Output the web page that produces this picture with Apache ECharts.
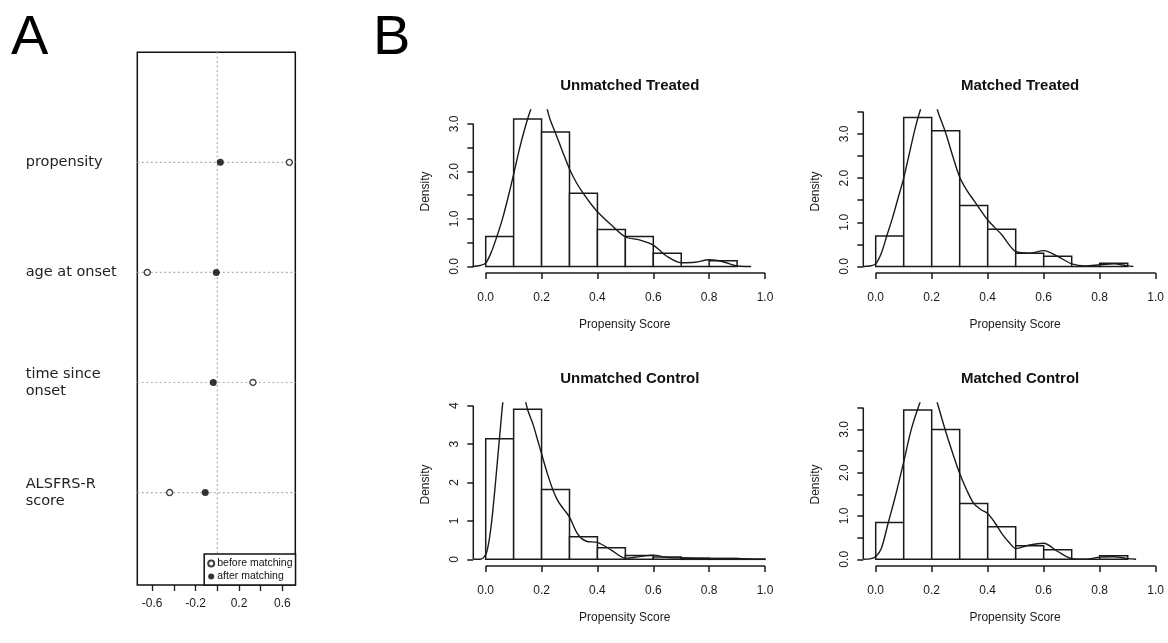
<!DOCTYPE html>
<html>
<head>
<meta charset="utf-8">
<script src="https://cdn.jsdelivr.net/npm/echarts@6/dist/echarts.min.js"></script>
<style>
html,body{margin:0;padding:0;background:#fff;}
#chart{width:1168px;height:643px;}
</style>
</head>
<body>
<div id="chart"></div>
<script>
// ---------- Panel A data ----------
const A_rows = ['propensity', 'age at onset', 'time since\nonset', 'ALSFRS-R\nscore'];
const A_before = [0.664, -0.645, 0.329, -0.439];
const A_after = [0.028, -0.009, -0.037, -0.111];
const A_xTicks = [-0.6, -0.4, -0.2, 0, 0.2, 0.4, 0.6];
const A_xLabels = [-0.6, -0.2, 0.2, 0.6];
const A_legend = ['before matching', 'after matching'];

// ---------- Panel B data ----------
const panelTitles = ['Unmatched Treated', 'Matched Treated', 'Unmatched Control', 'Matched Control'];
const binEdges = [0, 0.1, 0.2, 0.3, 0.4, 0.5, 0.6, 0.7, 0.8, 0.9, 1.0];
const xTickValues = [0, 0.2, 0.4, 0.6, 0.8, 1.0];

const histUT = [0.63, 3.10, 2.83, 1.54, 0.78, 0.63, 0.28, 0, 0.12];
const histMT = [0.69, 3.37, 3.07, 1.38, 0.84, 0.30, 0.23, 0, 0.075];
const histUC = [3.14, 3.91, 1.82, 0.59, 0.30, 0.10, 0.06, 0.03, 0.02, 0.01];
const histMC = [0.85, 3.45, 3.00, 1.29, 0.75, 0.31, 0.22, 0, 0.08];

const densXUT = [-0.047, -0.02, 0, 0.02, 0.04, 0.06, 0.08, 0.1, 0.12, 0.14, 0.16, 0.18, 0.195, 0.21, 0.23, 0.25, 0.275, 0.3, 0.325, 0.35, 0.375, 0.4, 0.45, 0.5, 0.55, 0.6, 0.65, 0.7, 0.75, 0.8, 0.85, 0.9, 0.95];
const densYUT = [0, 0.02, 0.07, 0.3, 0.63, 1.0, 1.45, 1.94, 2.45, 2.9, 3.28, 3.55, 3.62, 3.5, 3.1, 2.8, 2.42, 2.05, 1.76, 1.53, 1.33, 1.15, 0.87, 0.62, 0.56, 0.45, 0.21, 0.08, 0.09, 0.14, 0.1, 0.01, 0];

const densXMT = [-0.045, -0.02, 0, 0.02, 0.04, 0.06, 0.08, 0.1, 0.12, 0.14, 0.16, 0.18, 0.195, 0.21, 0.225, 0.25, 0.275, 0.3, 0.325, 0.35, 0.375, 0.4, 0.45, 0.5, 0.55, 0.6, 0.65, 0.7, 0.75, 0.8, 0.85, 0.9, 0.92];
const densYMT = [0, 0.01, 0.06, 0.3, 0.7, 1.1, 1.55, 2.0, 2.55, 3.1, 3.55, 3.85, 3.9, 3.75, 3.45, 3.02, 2.5, 2.02, 1.73, 1.5, 1.27, 1.05, 0.72, 0.34, 0.30, 0.36, 0.23, 0.06, 0.015, 0.04, 0.06, 0.015, 0];

const densXUC = [-0.044, -0.02, 0, 0.01, 0.02, 0.03, 0.04, 0.05, 0.06, 0.07, 0.09, 0.11, 0.13, 0.15, 0.17, 0.19, 0.2, 0.22, 0.24, 0.26, 0.28, 0.3, 0.33, 0.36, 0.4, 0.45, 0.5, 0.55, 0.6, 0.65, 0.7, 0.8, 0.9, 0.95];
const densYUC = [0, 0, 0.12, 0.4, 0.9, 1.6, 2.4, 3.2, 4.0, 4.6, 5.1, 5.0, 4.5, 3.9, 3.5, 3.0, 2.75, 2.25, 1.82, 1.5, 1.3, 1.1, 0.65, 0.47, 0.44, 0.24, 0.03, 0.07, 0.11, 0.05, 0.035, 0.02, 0.02, 0];

const densXMC = [-0.044, -0.02, 0, 0.02, 0.045, 0.07, 0.1, 0.125, 0.15, 0.17, 0.19, 0.21, 0.225, 0.25, 0.275, 0.3, 0.325, 0.35, 0.375, 0.4, 0.425, 0.45, 0.475, 0.5, 0.55, 0.6, 0.65, 0.7, 0.75, 0.8, 0.85, 0.9, 0.93];
const densYMC = [0, 0.01, 0.06, 0.25, 0.85, 1.45, 2.25, 2.95, 3.47, 3.8, 3.92, 3.8, 3.5, 2.95, 2.45, 1.98, 1.6, 1.29, 1.15, 1.06, 0.85, 0.6, 0.4, 0.25, 0.33, 0.37, 0.18, 0.015, 0, 0.05, 0.06, 0.015, 0];

const yTicksUT = [0, 0.5, 1, 1.5, 2, 2.5, 3];
const yTicksMT = [0, 0.5, 1, 1.5, 2, 2.5, 3, 3.5];
const yTicksUC = [0, 1, 2, 3, 4];
const yTicksMC = [0, 0.5, 1, 1.5, 2, 2.5, 3, 3.5];
const yLabelsUT = [0, 1, 2, 3];
const yLabelsMT = [0, 1, 2, 3];
const yLabelsUC = [0, 1, 2, 3, 4];
const yLabelsMC = [0, 1, 2, 3];

// ---------- layout ----------
const FONT = 'Liberation Sans, Arial, sans-serif';
const INK = '#1a1a1a';
const panels = [
  {title: panelTitles[0], hist: histUT, dx: densXUT, dy: densYUT, yTicks: yTicksUT, yLabels: yLabelsUT, dig: 1,
   grid: {left: 473.3, top: 110, width: 302.9, height: 163}, xMin: -0.0444, xMax: 1.04, yMin: -0.137, yMax: 3.29},
  {title: panelTitles[1], hist: histMT, dx: densXMT, dy: densYMT, yTicks: yTicksMT, yLabels: yLabelsMT, dig: 1,
   grid: {left: 863.3, top: 110, width: 303.6, height: 163}, xMin: -0.0443, xMax: 1.04, yMin: -0.147, yMax: 3.54},
  {title: panelTitles[2], hist: histUC, dx: densXUC, dy: densYUC, yTicks: yTicksUC, yLabels: yLabelsUC, dig: 0,
   grid: {left: 473.3, top: 403, width: 302.9, height: 163}, xMin: -0.0444, xMax: 1.04, yMin: -0.174, yMax: 4.07},
  {title: panelTitles[3], hist: histMC, dx: densXMC, dy: densYMC, yTicks: yTicksMC, yLabels: yLabelsMC, dig: 1,
   grid: {left: 863.3, top: 403, width: 303.6, height: 163}, xMin: -0.0443, xMax: 1.04, yMin: -0.155, yMax: 3.61}
];

const A = {grid: {left: 137.3, top: 52.3, width: 158, height: 532.7}, xMin: -0.737, xMax: 0.719, yMin: 0.16, yMax: 5};

const grids = [];
const xAxes = [];
const yAxes = [];
const series = [];
const titles = [
  {text: 'A', left: 6, top: 6, textStyle: {fontFamily: FONT, fontSize: 56, fontWeight: 'normal', color: '#000'}},
  {text: 'B', left: 368, top: 6, textStyle: {fontFamily: FONT, fontSize: 56, fontWeight: 'normal', color: '#000'}}
];

// Panel A
grids.push(Object.assign({show: true, borderColor: '#111', borderWidth: 1.5, backgroundColor: 'transparent'}, A.grid));
xAxes.push({
  type: 'value', gridIndex: 0, min: A.xMin, max: A.xMax,
  axisLine: {show: false, onZero: false}, splitLine: {show: false},
  axisTick: {show: true, length: 6, customValues: A_xTicks, lineStyle: {color: INK, width: 1.3}},
  axisLabel: {customValues: A_xLabels, margin: 13, fontSize: 12, fontFamily: FONT, color: INK,
    formatter: v => (+v).toFixed(1)}
});
const rowPos = A_rows.map((_, i) => A_rows.length - i);
yAxes.push({
  type: 'value', gridIndex: 0, min: A.yMin, max: A.yMax,
  axisLine: {show: false, onZero: false}, splitLine: {show: false}, axisTick: {show: false},
  axisLabel: {customValues: rowPos, align: 'left', margin: 111.6, fontSize: 14.5, lineHeight: 17,
    fontFamily: 'DejaVu Sans, Verdana, sans-serif', color: '#222',
    formatter: v => A_rows[A_rows.length - v]}
});
const guideStyle = {color: '#b0b0b0', width: 1.2, type: [2, 2.5]};
series.push({type: 'line', xAxisIndex: 0, yAxisIndex: 0, data: [[0, A.yMin], [0, A.yMax]],
  showSymbol: false, silent: true, lineStyle: guideStyle, z: 1});
rowPos.forEach(r => {
  series.push({type: 'line', xAxisIndex: 0, yAxisIndex: 0, data: [[A.xMin, r], [A.xMax, r]],
    showSymbol: false, silent: true, lineStyle: guideStyle, z: 1});
});
series.push({name: A_legend[0], type: 'scatter', xAxisIndex: 0, yAxisIndex: 0, z: 5,
  data: A_before.map((v, i) => [v, rowPos[i]]), symbol: 'circle', symbolSize: 6,
  itemStyle: {color: '#fff', borderColor: '#111', borderWidth: 1.4}});
series.push({name: A_legend[1], type: 'scatter', xAxisIndex: 0, yAxisIndex: 0, z: 5,
  data: A_after.map((v, i) => [v, rowPos[i]]), symbol: 'circle', symbolSize: 7,
  itemStyle: {color: '#000'}});

// Panel B
function renderBar(params, api) {
  const x0 = api.value(0), x1 = api.value(1), h = api.value(2);
  const p0 = api.coord([x0, 0]);
  const p1 = api.coord([x1, h]);
  return {type: 'rect', shape: {x: p0[0], y: p1[1], width: p1[0] - p0[0], height: p0[1] - p1[1]},
    style: {fill: '#fff', stroke: INK, lineWidth: 1.5}};
}
panels.forEach((p, k) => {
  const gi = k + 1;
  grids.push(Object.assign({show: false}, p.grid));
  xAxes.push({
    type: 'value', gridIndex: gi, min: p.xMin, max: p.xMax,
    name: 'Propensity Score', nameLocation: 'middle', nameGap: 46,
    nameTextStyle: {fontFamily: FONT, fontSize: 12, color: INK},
    axisLine: {show: false, onZero: false}, splitLine: {show: false},
    axisTick: {show: true, length: 6, customValues: xTickValues, lineStyle: {color: INK, width: 1.5}},
    axisLabel: {customValues: xTickValues, margin: 19, fontSize: 12, fontFamily: FONT, color: INK,
      formatter: v => (+v).toFixed(1)}
  });
  yAxes.push({
    type: 'value', gridIndex: gi, min: p.yMin, max: p.yMax,
    name: 'Density', nameLocation: 'middle', nameGap: 42,
    nameTextStyle: {fontFamily: FONT, fontSize: 12, color: INK},
    axisLine: {show: false, onZero: false}, splitLine: {show: false},
    axisTick: {show: true, length: 6, customValues: p.yTicks, lineStyle: {color: INK, width: 1.5}},
    axisLabel: {customValues: p.yLabels, margin: 13, rotate: 90, align: 'center', verticalAlign: 'bottom',
      fontSize: 12, fontFamily: FONT, color: INK, formatter: v => (+v).toFixed(p.dig)}
  });
  titles.push({text: p.title, left: p.grid.left + p.grid.width / 2, top: p.grid.top - 37, textAlign: 'center',
    textStyle: {fontFamily: FONT, fontSize: 15, fontWeight: 'bold', color: '#111'}});
  // axis lines (R style: span first to last tick)
  series.push({type: 'line', xAxisIndex: gi, yAxisIndex: gi, clip: false, silent: true, showSymbol: false,
    data: [[xTickValues[0], p.yMin], [xTickValues[xTickValues.length - 1], p.yMin]],
    lineStyle: {color: INK, width: 1.5}});
  series.push({type: 'line', xAxisIndex: gi, yAxisIndex: gi, clip: false, silent: true, showSymbol: false,
    data: [[p.xMin, p.yTicks[0]], [p.xMin, p.yTicks[p.yTicks.length - 1]]],
    lineStyle: {color: INK, width: 1.5}});
  // histogram
  series.push({type: 'custom', xAxisIndex: gi, yAxisIndex: gi, silent: true, renderItem: renderBar,
    data: p.hist.map((h, i) => [binEdges[i], binEdges[i + 1], h]), encode: {x: [0, 1], y: 2}, z: 2});
  // density curve
  series.push({type: 'line', xAxisIndex: gi, yAxisIndex: gi, clip: true, silent: true, showSymbol: false,
    smooth: 0.3, data: p.dx.map((x, i) => [x, p.dy[i]]), lineStyle: {color: INK, width: 1.4}, z: 3});
});

const chart = echarts.init(document.getElementById('chart'), null, {renderer: 'canvas'});
chart.setOption({
  animation: false,
  backgroundColor: '#fff',
  textStyle: {fontFamily: FONT},
  title: titles,
  legend: {
    data: [{name: A_legend[0], icon: 'circle'}, {name: A_legend[1], icon: 'circle'}],
    orient: 'vertical', right: 872.5, bottom: 58,
    itemWidth: 6, itemHeight: 6, itemGap: 2, padding: [4, 3, 3, 3],
    borderColor: '#111', borderWidth: 1.5, borderRadius: 0, backgroundColor: '#fff',
    selectedMode: false,
    textStyle: {fontFamily: FONT, fontSize: 10.5, color: '#111', padding: [0, 0, 0, -2]}
  },
  grid: grids,
  xAxis: xAxes,
  yAxis: yAxes,
  series: series
});
</script>
</body>
</html>
